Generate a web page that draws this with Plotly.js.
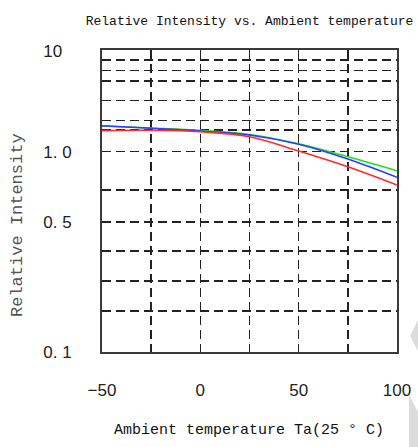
<!DOCTYPE html>
<html>
<head>
<meta charset="utf-8">
<script src="https://cdn.plot.ly/plotly-3.0.1.min.js"></script>
<style>html,body{margin:0;padding:0;background:#fff;}#chart{width:418px;height:447px;}</style>
</head>
<body>
<div id="chart"></div>
<script>
// Ambient temperature (°C)
var temps = [-50, -25, 0, 25, 50, 75, 100];
// Relative intensity
var greenSeries = [1.345, 1.314, 1.279, 1.219, 1.095, 0.944, 0.804];
var blueSeries  = [1.349, 1.309, 1.269, 1.212, 1.089, 0.919, 0.745];
var redSeries   = [1.275, 1.280, 1.259, 1.189, 1.008, 0.841, 0.682];

// x tick labels
var xTickVals = [-50, -25, 0, 25, 50, 75, 100];
var xTickText = ["\u221250", "", "0", "", "50", "", "100"];
// y grid / tick labels (the reference scale is hand-drawn, not strictly logarithmic)
var yTickVals = [3.2, 2.874, 2.541, 2.257, 1.799, 1.429, 1.284, 1.0, 0.6434, 0.4467, 0.3189, 0.2257, 0.1598, 0.1];
var yTickText = ["10\u00a0\u00a0", "", "", "", "", "", "", "1. 0", "", "0. 5", "", "", "", "0. 1"];

var mono = "Liberation Mono, DejaVu Sans Mono, monospace";
var sans = "Liberation Sans, Arial, sans-serif";

function line(y, color) {
  return {x: temps, y: y, type: "scatter", mode: "lines",
          line: {color: color, width: 1.6, shape: "spline", smoothing: 1},
          hoverinfo: "skip", showlegend: false};
}

var data = [line(greenSeries, "#1ee01e"), line(blueSeries, "#2a3cff"), line(redSeries, "#ff2a2a")];

var plotW = 295, plotH = 302, L = 102, T = 50;
function px(x) { return (x - L) / plotW; }
function py(y) { return (T + plotH - y) / plotH; }

var layout = {
  width: 418, height: 447,
  margin: {l: L, r: 21, t: T, b: 95},
  paper_bgcolor: "#fff", plot_bgcolor: "#fff",
  title: {text: "Relative Intensity vs. Ambient temperature",
          font: {family: mono, size: 13, color: "#111"},
          x: 0.5, xref: "paper", xanchor: "center",
          y: 1 - 20 / 447, yref: "container", yanchor: "middle"},
  xaxis: {range: [-50, 100], tickmode: "array", tickvals: xTickVals, ticktext: xTickText,
          showgrid: true, gridcolor: "#222", gridwidth: 1.5, griddash: "9px,5px",
          zeroline: false, showline: true, mirror: true, linecolor: "#3a3a3a", linewidth: 2,
          ticks: "", ticklabelstandoff: 22,
          tickfont: {family: sans, size: 17, color: "#222"}, fixedrange: true},
  yaxis: {type: "log", range: [-1, 0.508], tickmode: "array", tickvals: yTickVals, ticktext: yTickText,
          showgrid: true, gridcolor: "#222", gridwidth: 1.5, griddash: "9px,5px",
          zeroline: false, showline: true, mirror: true, linecolor: "#3a3a3a", linewidth: 2,
          ticks: "", ticklabelstandoff: 25,
          tickfont: {family: sans, size: 17, color: "#222"}, fixedrange: true},
  annotations: [
    {text: "Ambient temperature Ta(25 \u00b0 C)", xref: "paper", yref: "paper",
     x: px(249), y: py(430), xanchor: "center", yanchor: "middle", showarrow: false,
     font: {family: mono, size: 15, color: "#111"}},
    {text: "Relative Intensity", xref: "paper", yref: "paper", textangle: -90,
     x: px(17), y: py(225), xanchor: "center", yanchor: "middle", showarrow: false,
     font: {family: mono, size: 17, color: "#555"}}
  ],
  shapes: [
    {type: "path", xref: "paper", yref: "paper", line: {width: 0}, fillcolor: "#dcdcdc", layer: "below",
     path: "M " + px(418) + "," + py(320) + " L " + px(410) + "," + py(336) + " L " + px(418) + "," + py(351) + " Z"},
    {type: "path", xref: "paper", yref: "paper", line: {width: 0}, fillcolor: "#dcdcdc", layer: "below",
     path: "M " + px(409) + "," + py(395) + " L " + px(418) + "," + py(412) + " L " + px(418) + "," + py(447) + " L " + px(409) + "," + py(447) + " Z"}
  ]
};

Plotly.newPlot("chart", data, layout, {displayModeBar: false, staticPlot: true});
</script>
</body>
</html>
